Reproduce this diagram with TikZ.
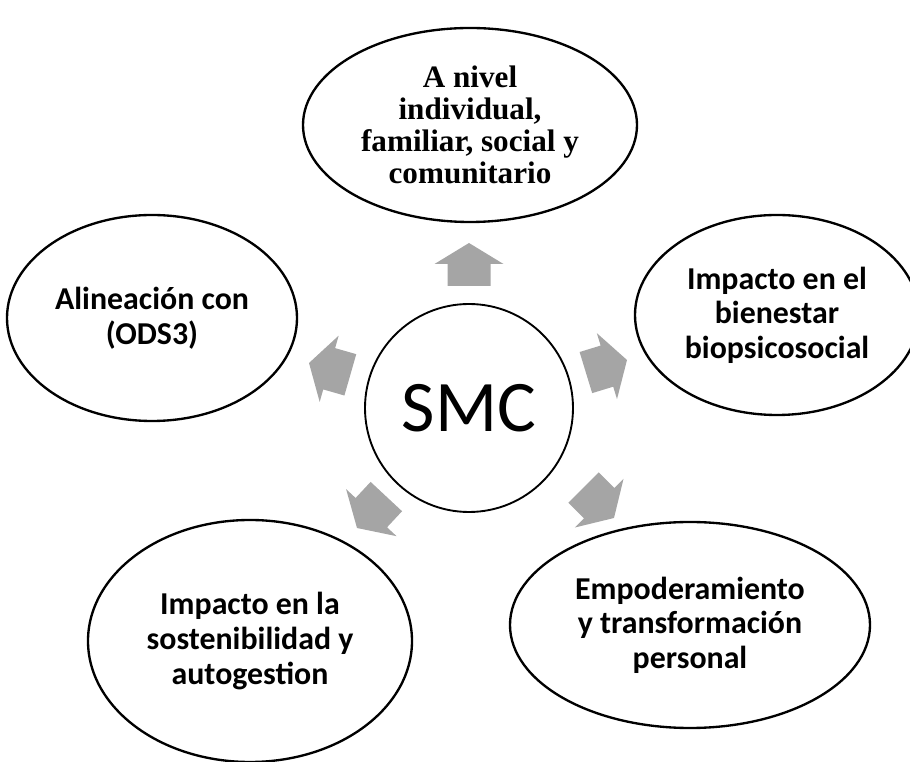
\documentclass[tikz,border=0pt]{standalone}
\usepackage{fontspec}
\setmainfont{Carlito}
\newfontfamily\timesfont{Liberation Serif}
\usetikzlibrary{shapes.geometric}
\definecolor{arrowgray}{HTML}{A5A5A5}

\begin{document}
\begin{tikzpicture}[
        every node/.style={ellipse, draw, line width=2pt, inner sep=0pt, align=center,
            font=\bfseries\fontsize{27.2}{29.5}\selectfont},
        blockarrow/.style={fill=arrowgray, draw=none}
    ]
    \path[use as bounding box, clip] (0,0) rectangle (27.3,22.86);

    % Centre
    \node[circle, line width=1.6pt, minimum size=6.24cm,
        font=\fontsize{62}{64}\selectfont] (smc) at (14.07,10.62) {SMC};

    % Outer ellipses
    \node[minimum width=10.02cm, minimum height=5.82cm,
        font=\timesfont\bfseries\fontsize{26.6}{27.3}\selectfont]
        (nivel) at (14.1,19.11) {A nivel\\individual,\\familiar, social y\\comunitario};
    \node[minimum width=8.52cm, minimum height=6cm] (bienestar) at (23.31,13.41)
        {Impacto en el\\bienestar\\biopsicosocial};
    \node[minimum width=10.8cm, minimum height=6.18cm] (empoderamiento) at (20.7,4.11)
        {Empoderamiento\\y transformación\\personal};
    \node[minimum width=9.72cm, minimum height=7.26cm] (sostenibilidad) at (7.5,3.63)
        {Impacto en la\\sostenibilidad y\\autogestion};
    \node[minimum width=8.7cm, minimum height=6.18cm] (alineacion) at (4.56,13.32)
        {Alineación con\\(ODS3)};

    % Block arrows round the centre (tip offset and direction)
    \begin{scope}[shift={(smc.center)}]
        \foreach \tx/\ty/\ang in {0/4.95/90, 4.74/1.44/17, -4.8/1.35/164, -3.36/-3.6/227, 4.35/-3.3/-45}
            \fill[blockarrow, shift={(\tx,\ty)}, rotate=\ang]
                (-1.29,-0.645) -- (-0.63,-0.645) -- (-0.63,-1.035) -- (0,0)
                -- (-0.63,1.035) -- (-0.63,0.645) -- (-1.29,0.645) -- cycle;
    \end{scope}

\end{tikzpicture}
\end{document}
